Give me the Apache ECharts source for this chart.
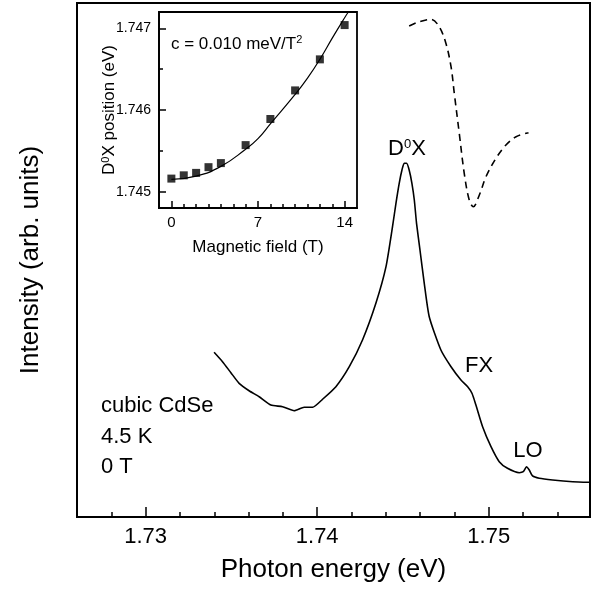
<!DOCTYPE html>
<html><head><meta charset="utf-8">
<script src="https://cdn.jsdelivr.net/npm/echarts@6/dist/echarts.min.js"></script>
<style>html,body{margin:0;padding:0;background:#fff}#c{width:598px;height:591px}</style>
</head><body><div id="c"></div><script>
const FONT = '"Liberation Sans", Arial, Helvetica, sans-serif';

// Main PL spectrum (solid): photon energy (eV) and intensity (arb. units)
const plEnergy = [1.73399,1.73448,1.73497,1.73545,1.73603,1.73662,1.73730,1.73798,1.73866,1.73924,1.73973,1.74031,1.74109,1.74187,1.74264,1.74342,1.74401,1.74439,1.74459,1.74478,1.74494,1.74507,1.74521,1.74536,1.74552,1.74566,1.74579,1.74599,1.74624,1.74653,1.74721,1.74780,1.74838,1.74877,1.74902,1.74925,1.74964,1.75013,1.75061,1.75109,1.75178,1.75201,1.75220,1.75236,1.75255,1.75294,1.75372,1.75489,1.75586];
const plIntensity = [32.04,30.21,28.07,26.01,24.57,23.40,21.79,21.46,20.68,21.34,21.34,22.90,25.35,29.24,34.44,41.58,48.70,56.48,61.03,64.92,67.51,68.81,68.81,67.51,64.92,61.67,57.14,51.95,45.47,38.97,32.49,29.24,26.65,25.35,24.07,21.79,17.57,13.68,10.76,9.47,8.62,8.81,9.79,9.14,7.98,7.53,7.20,6.87,6.75];

// Reflectance-like dashed curve
const dashEnergy = [1.74536,1.74595,1.74663,1.74711,1.74750,1.74780,1.74799,1.74828,1.74857,1.74886,1.74910,1.74945,1.74984,1.75042,1.75100,1.75159,1.75232];
const dashIntensity = [95.53,96.36,96.83,95.39,92.16,87.61,82.43,74.65,66.87,61.67,60.37,62.65,66.21,69.79,72.37,73.99,74.77];

// Main x-axis ticks
const xMajorTicks = [1.73, 1.74, 1.75];
const xMinorTicks = [1.728,1.732,1.734,1.736,1.738,1.742,1.744,1.746,1.748,1.752,1.754];

// Inset: D0X position vs magnetic field
const fieldT = [0,1,2,3,4,6,8,10,12,14];
const d0xPos = [1.74516,1.74520,1.74523,1.74530,1.74535,1.74557,1.74589,1.74624,1.74662,1.74704];
const fitField = [0,2,4,6,7,8,10,11,12,13,14,14.3];
const fitPos = [1.74515,1.74519,1.74531,1.74552,1.74565,1.74583,1.74619,1.74639,1.74662,1.74688,1.74713,1.74720];
const insetXMajor = [0, 7, 14];
const insetXMinor = [1,2,3,4,5,6,8,9,10,11,12,13];
const insetYMajor = [1.745, 1.746, 1.747];
const insetYMinor = [1.7455, 1.7465];

const zip = (a, b) => a.map((v, i) => [v, b[i]]);
const black = '#000';
const tickStyle = {color: black, width: 1.5};

const chart = echarts.init(document.getElementById('c'));
chart.setOption({
  animation: false,
  backgroundColor: '#fff',
  textStyle: {fontFamily: FONT},
  grid: [
    {left: 77, top: 3, width: 513, height: 514, show: true, borderColor: black, borderWidth: 2},
    {left: 159, top: 12, width: 198, height: 196, show: true, borderColor: black, borderWidth: 1.8, backgroundColor: '#fff'}
  ],
  xAxis: [
    {gridIndex: 0, type: 'value', min: 1.726, max: 1.7559, position: 'bottom',
     axisLine: {show: true, onZero: false, lineStyle: {color: black, width: 2}},
     axisTick: {show: true, inside: true, length: 10, customValues: xMajorTicks, lineStyle: tickStyle},
     axisLabel: {show: true, customValues: xMajorTicks, margin: 9, fontSize: 22, color: black, fontFamily: FONT,
                 formatter: v => v.toFixed(2)},
     splitLine: {show: false},
     name: 'Photon energy (eV)', nameLocation: 'middle', nameGap: 40, nameMoveOverlap: false,
     nameTextStyle: {fontSize: 26, color: black, fontFamily: FONT}},
    {gridIndex: 0, type: 'value', min: 1.726, max: 1.7559, position: 'bottom',
     axisLine: {show: false, onZero: false},
     axisTick: {show: true, inside: true, length: 5, customValues: xMinorTicks, lineStyle: tickStyle},
     axisLabel: {show: false}, splitLine: {show: false}},
    {gridIndex: 1, type: 'value', min: -1, max: 15, position: 'bottom',
     axisLine: {show: true, onZero: false, lineStyle: {color: black, width: 1.8}},
     axisTick: {show: true, inside: true, length: 7, customValues: insetXMajor, lineStyle: tickStyle},
     axisLabel: {show: true, customValues: insetXMajor, margin: 7, fontSize: 15, color: black, fontFamily: FONT},
     splitLine: {show: false},
     name: 'Magnetic field (T)', nameLocation: 'middle', nameGap: 31, nameMoveOverlap: false,
     nameTextStyle: {fontSize: 17, color: black, fontFamily: FONT}},
    {gridIndex: 1, type: 'value', min: -1, max: 15, position: 'bottom',
     axisLine: {show: false, onZero: false},
     axisTick: {show: true, inside: true, length: 4, customValues: insetXMinor, lineStyle: tickStyle},
     axisLabel: {show: false}, splitLine: {show: false}}
  ],
  yAxis: [
    {gridIndex: 0, type: 'value', min: 0, max: 100,
     axisLine: {show: false, onZero: false}, axisTick: {show: false}, axisLabel: {show: false}, splitLine: {show: false},
     name: 'Intensity (arb. units)', nameLocation: 'middle', nameGap: 33, nameRotate: 90, nameMoveOverlap: false,
     nameTextStyle: {fontSize: 26, color: black, fontFamily: FONT}},
    {gridIndex: 1, type: 'value', min: 1.7448, max: 1.7472, position: 'left',
     axisLine: {show: true, onZero: false, lineStyle: {color: black, width: 1.8}},
     axisTick: {show: true, inside: true, length: 7, customValues: insetYMajor, lineStyle: tickStyle},
     axisLabel: {show: true, customValues: insetYMajor, margin: 8, fontSize: 14, color: black, fontFamily: FONT,
                 formatter: v => v.toFixed(3)},
     splitLine: {show: false},
     name: 'D{s|0}X position (eV)', nameLocation: 'middle', nameGap: 40, nameRotate: 90, nameMoveOverlap: false,
     nameTextStyle: {fontSize: 17, color: black, fontFamily: FONT,
                     rich: {s: {fontSize: 11, fontFamily: FONT, color: black, padding: [0, 0, 8, 0]}}}},
    {gridIndex: 1, type: 'value', min: 1.7448, max: 1.7472, position: 'left',
     axisLine: {show: false, onZero: false},
     axisTick: {show: true, inside: true, length: 4, customValues: insetYMinor, lineStyle: tickStyle},
     axisLabel: {show: false}, splitLine: {show: false}}
  ],
  series: [
    {type: 'line', xAxisIndex: 0, yAxisIndex: 0, data: zip(plEnergy, plIntensity), showSymbol: false,
     smooth: 0.2, lineStyle: {color: black, width: 1.6}, silent: true},
    {type: 'line', xAxisIndex: 0, yAxisIndex: 0, data: zip(dashEnergy, dashIntensity), showSymbol: false,
     smooth: 0.35, lineStyle: {color: black, width: 1.6, type: [7, 5]}, silent: true},
    {type: 'line', xAxisIndex: 2, yAxisIndex: 1, data: zip(fitField, fitPos), showSymbol: false,
     smooth: true, clip: true, lineStyle: {color: black, width: 1.2}, silent: true, z: 3},
    {type: 'scatter', xAxisIndex: 2, yAxisIndex: 1, data: zip(fieldT, d0xPos), symbol: 'rect', symbolSize: 8,
     itemStyle: {color: black}, silent: true, z: 4}
  ],
  graphic: [
    {type: 'text', x: 407, y: 149, style: {text: 'D{s|0}X', fontSize: 22, fontFamily: FONT, fill: black,
       align: 'center', verticalAlign: 'middle',
       rich: {s: {fontSize: 13, fontFamily: FONT, fill: black, padding: [0, 0, 10, 0]}}}},
    {type: 'text', x: 479, y: 366, style: {text: 'FX', fontSize: 22, fontFamily: FONT, fill: black, align: 'center', verticalAlign: 'middle'}},
    {type: 'text', x: 528, y: 451, style: {text: 'LO', fontSize: 22, fontFamily: FONT, fill: black, align: 'center', verticalAlign: 'middle'}},
    {type: 'text', x: 101, y: 406, style: {text: 'cubic CdSe', fontSize: 22, fontFamily: FONT, fill: black, align: 'left', verticalAlign: 'middle'}},
    {type: 'text', x: 101, y: 437, style: {text: '4.5 K', fontSize: 22, fontFamily: FONT, fill: black, align: 'left', verticalAlign: 'middle'}},
    {type: 'text', x: 101, y: 467, style: {text: '0 T', fontSize: 22, fontFamily: FONT, fill: black, align: 'left', verticalAlign: 'middle'}},
    {type: 'text', x: 171, y: 44, z: 10, style: {text: 'c = 0.010 meV/T{s|2}', fontSize: 17, fontFamily: FONT, fill: black,
       align: 'left', verticalAlign: 'middle',
       rich: {s: {fontSize: 11, fontFamily: FONT, fill: black, padding: [0, 0, 8, 0]}}}}
  ]
});
</script></body></html>
